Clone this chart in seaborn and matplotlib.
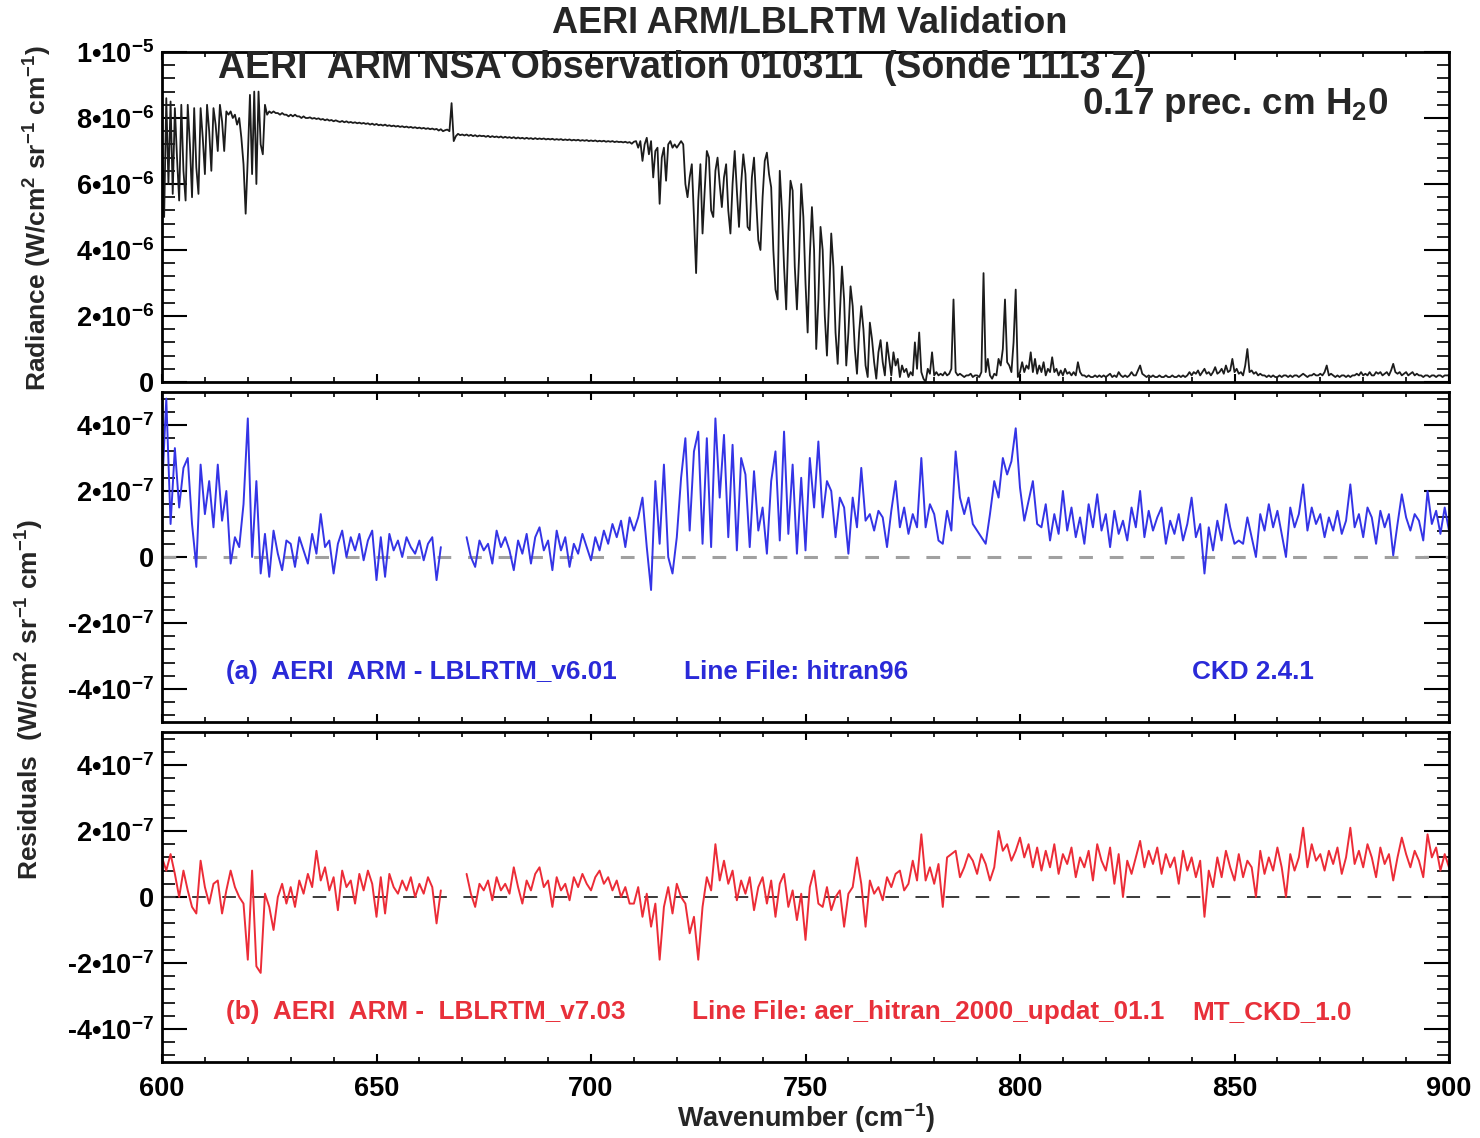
import numpy as np
import pandas as pd
import matplotlib
matplotlib.use("Agg")
import matplotlib.pyplot as plt
from matplotlib.ticker import MultipleLocator
import seaborn as sns

sns.set_theme(style="white")
plt.rcParams["font.family"] = ["Liberation Sans", "DejaVu Sans"]
plt.rcParams["font.weight"] = "bold"
plt.rcParams["mathtext.fontset"] = "custom"
plt.rcParams["mathtext.rm"] = "Liberation Sans:bold"
plt.rcParams["mathtext.it"] = "Liberation Sans:bold"
plt.rcParams["mathtext.bf"] = "Liberation Sans:bold"
plt.rcParams["mathtext.sf"] = "Liberation Sans:bold"

# Observed AERI radiance, 600-900 cm-1 every 0.5 cm-1 (units of 1e-6 W/cm2 sr cm-1)
radiance = [
    7.6, 5.0, 8.6, 6.0, 8.5, 5.7, 8.3, 6.8, 5.5, 8.4, 6.4, 5.5, 8.4, 7.2, 5.6, 8.3, 6.5, 5.7, 8.3, 7.4,
    6.3, 8.4, 7.6, 6.4, 8.3, 7.8, 7.0, 8.4, 7.9, 7.0, 8.2, 8.1, 8.2, 8.0, 8.1, 7.8, 8.0, 7.4, 6.6, 5.1,
    6.8, 8.7, 6.3, 8.8, 6.0, 8.8, 7.2, 6.9, 8.4, 8.1, 8.2, 8.15, 8.2, 8.15, 8.15, 8.1, 8.15, 8.1, 8.1, 8.05,
    8.1, 8.05, 8.1, 8.05, 8.05, 8.0, 8.05, 8.0, 8.0, 8.02, 7.98, 8.0, 7.97, 7.99, 7.95, 7.97, 7.93, 7.96, 7.92, 7.94,
    7.9, 7.93, 7.9, 7.88, 7.91, 7.87, 7.9, 7.86, 7.88, 7.85, 7.87, 7.84, 7.86, 7.83, 7.85, 7.82, 7.84, 7.8, 7.83, 7.79,
    7.82, 7.78, 7.8, 7.77, 7.8, 7.76, 7.78, 7.75, 7.77, 7.74, 7.76, 7.73, 7.75, 7.72, 7.74, 7.71, 7.73, 7.7, 7.72, 7.69,
    7.71, 7.68, 7.7, 7.67, 7.69, 7.66, 7.68, 7.65, 7.67, 7.62, 7.66, 7.6, 7.63, 7.65, 7.6, 8.45, 7.3, 7.45, 7.52, 7.48,
    7.5, 7.47, 7.5, 7.46, 7.49, 7.45, 7.48, 7.44, 7.47, 7.45, 7.46, 7.43, 7.46, 7.42, 7.45, 7.42, 7.44, 7.41, 7.44, 7.4,
    7.43, 7.4, 7.42, 7.39, 7.42, 7.38, 7.41, 7.38, 7.4, 7.37, 7.4, 7.37, 7.39, 7.36, 7.39, 7.36, 7.38, 7.36, 7.38, 7.35,
    7.37, 7.35, 7.37, 7.34, 7.36, 7.34, 7.36, 7.33, 7.35, 7.33, 7.35, 7.32, 7.34, 7.32, 7.34, 7.31, 7.33, 7.31, 7.33, 7.3,
    7.32, 7.3, 7.32, 7.29, 7.31, 7.29, 7.31, 7.28, 7.3, 7.28, 7.3, 7.27, 7.29, 7.27, 7.28, 7.26, 7.28, 7.25, 7.27, 7.22,
    7.28, 7.3, 7.1, 7.3, 6.7, 7.2, 7.4, 6.9, 7.3, 6.2, 7.0, 7.1, 5.4, 6.8, 7.1, 6.1, 7.2, 7.3, 7.1, 7.2,
    7.1, 7.2, 7.3, 7.2, 6.0, 5.6, 6.2, 6.6, 5.0, 3.3, 5.5, 6.6, 4.5, 5.8, 7.0, 6.8, 5.2, 5.0, 6.4, 6.8,
    6.0, 5.3, 6.2, 6.6, 5.2, 4.5, 6.0, 7.0, 5.8, 4.7, 6.0, 6.9, 6.3, 4.7, 4.6, 6.2, 6.8, 5.5, 4.3, 4.0,
    5.6, 6.7, 6.95, 6.3, 5.9, 4.0, 2.8, 2.5, 6.4, 5.2, 3.5, 2.2, 4.5, 6.1, 5.8, 3.5, 2.2, 3.8, 6.0, 5.0,
    3.0, 1.5, 3.8, 5.3, 4.0, 1.0, 2.5, 4.7, 4.0, 2.0, 0.8, 2.5, 4.5, 3.5, 1.5, 0.55, 2.0, 3.5, 2.5, 0.5,
    1.5, 2.9, 2.3, 1.0, 0.25, 1.5, 2.3, 1.6, 0.5, 0.15, 1.8, 1.3, 0.6, 0.1, 0.9, 1.27, 0.6, 0.2, 1.2, 0.7,
    0.2, 0.9, 0.5, 0.7, 0.15, 0.5, 0.3, 0.4, 0.15, 0.3, 0.2, 1.2, 0.4, 1.5, 0.3, 0.1, 0.0, 0.4, 0.25, 0.9,
    0.2, 0.3, 0.2, 0.25, 0.2, 0.3, 0.2, 0.25, 0.4, 2.5, 0.3, 0.2, 0.25, 0.2, 0.15, 0.2, 0.2, 0.25, 0.15, 0.2,
    0.2, 0.15, 0.3, 3.3, 0.3, 0.7, 0.2, 0.1, 0.25, 0.2, 0.7, 0.5, 1.0, 2.5, 0.6, 0.5, 0.3, 1.2, 2.8, 0.15,
    0.3, 0.6, 0.3, 0.5, 0.4, 0.9, 0.3, 0.7, 0.25, 0.5, 0.3, 0.6, 0.2, 0.4, 0.3, 0.75, 0.3, 0.4, 0.2, 0.35,
    0.2, 0.4, 0.25, 0.3, 0.2, 0.3, 0.2, 0.6, 0.3, 0.2, 0.2, 0.15, 0.2, 0.15, 0.15, 0.2, 0.15, 0.2, 0.15, 0.2,
    0.15, 0.2, 0.25, 0.15, 0.2, 0.15, 0.3, 0.2, 0.15, 0.2, 0.15, 0.2, 0.3, 0.2, 0.2, 0.35, 0.5, 0.25, 0.2, 0.15,
    0.2, 0.15, 0.2, 0.15, 0.15, 0.2, 0.15, 0.15, 0.2, 0.15, 0.15, 0.2, 0.15, 0.15, 0.2, 0.15, 0.2, 0.15, 0.2, 0.3,
    0.2, 0.3, 0.25, 0.35, 0.2, 0.3, 0.4, 0.25, 0.3, 0.2, 0.3, 0.45, 0.25, 0.3, 0.4, 0.25, 0.5, 0.3, 0.35, 0.7,
    0.3, 0.4, 0.25, 0.3, 0.2, 0.5, 1.0, 0.3, 0.35, 0.25, 0.3, 0.2, 0.25, 0.2, 0.2, 0.15, 0.2, 0.15, 0.2, 0.15,
    0.15, 0.2, 0.15, 0.2, 0.2, 0.15, 0.2, 0.15, 0.2, 0.2, 0.15, 0.2, 0.25, 0.2, 0.15, 0.2, 0.2, 0.25, 0.2, 0.2,
    0.25, 0.2, 0.3, 0.5, 0.2, 0.25, 0.2, 0.15, 0.2, 0.15, 0.2, 0.2, 0.15, 0.2, 0.15, 0.2, 0.2, 0.25, 0.2, 0.3,
    0.2, 0.25, 0.2, 0.3, 0.2, 0.2, 0.3, 0.25, 0.3, 0.2, 0.25, 0.3, 0.2, 0.35, 0.55, 0.3, 0.25, 0.3, 0.2, 0.25,
    0.3, 0.2, 0.25, 0.3, 0.2, 0.25, 0.2, 0.2, 0.15, 0.2, 0.2, 0.15, 0.2, 0.2, 0.15, 0.2, 0.2, 0.15, 0.2, 0.2, 0.2,
]

nan = np.nan

# AERI minus LBLRTM v6.01 (hitran96, CKD 2.4.1), every 1 cm-1 (units of 1e-7)
resid_v601 = [
    2.0, 4.8, 1.0, 3.3, 1.5, 2.7, 3.0, 1.0, -0.3, 2.8,
    1.3, 2.3, 0.9, 2.8, 1.1, 2.0, -0.2, 0.6, 0.3, 1.6,
    4.2, 0.0, 2.3, -0.5, 0.7, -0.6, 0.8, 0.1, -0.4, 0.5,
    0.4, -0.3, 0.6, 0.2, -0.2, 0.7, 0.1, 1.3, 0.3, 0.5,
    -0.5, 0.4, 0.8, 0.0, 0.6, 0.2, 0.7, -0.1, 0.5, 0.8,
    -0.7, 0.6, -0.6, 0.7, 0.2, 0.5, 0.0, 0.6, 0.3, 0.1,
    0.5, -0.1, 0.4, 0.6, -0.7, 0.3, nan, nan, nan, nan,
    nan, 0.6, 0.0, -0.3, 0.5, 0.2, 0.4, -0.2, 0.8, 0.3,
    0.6, 0.2, -0.4, 0.5, 0.1, 0.7, -0.2, 0.6, 0.9, 0.2,
    0.5, -0.4, 0.8, 0.2, 0.6, -0.3, 0.4, 0.1, 0.7, 0.3,
    -0.1, 0.6, 0.2, 0.8, 0.4, 1.0, 0.6, 1.1, 0.3, 1.2,
    0.8, 1.2, 1.8, 0.3, -1.0, 2.3, 0.4, 2.8, 0.0, -0.5,
    0.6, 2.4, 3.6, 0.8, 3.2, 3.8, 0.4, 3.6, 0.3, 4.2,
    1.8, 3.7, 0.6, 3.4, 0.2, 3.0, 2.5, 0.3, 2.6, 0.8,
    1.5, 0.1, 2.3, 3.2, 0.5, 3.8, 0.7, 2.8, 0.1, 2.4,
    0.2, 3.0, 1.5, 3.5, 1.2, 2.3, 2.0, 0.6, 1.8, 1.5,
    0.1, 1.8, 0.9, 2.7, 1.1, 1.3, 0.8, 1.4, 1.2, 0.3,
    1.4, 2.3, 0.9, 1.5, 0.7, 1.3, 0.9, 3.0, 0.9, 1.6,
    1.3, 0.5, 0.4, 1.4, 0.8, 3.2, 1.8, 1.3, 1.8, 1.0,
    0.8, 0.6, 0.4, 1.3, 2.3, 1.8, 3.0, 2.5, 2.9, 3.9,
    2.1, 1.1, 1.7, 2.3, 1.0, 0.9, 1.6, 0.5, 1.3, 0.7,
    2.0, 0.8, 1.5, 0.6, 1.2, 0.4, 1.6, 0.9, 1.9, 0.8,
    1.3, 0.3, 1.4, 0.7, 1.1, 0.5, 1.5, 0.9, 2.0, 0.6,
    1.4, 0.8, 1.2, 1.5, 0.4, 1.1, 0.7, 1.3, 0.5, 1.0,
    1.8, 0.6, 1.0, -0.5, 0.9, 0.2, 1.1, 0.5, 1.6, 0.9,
    0.4, 0.5, 0.4, 1.2, 0.6, 0.0, 1.3, 0.8, 1.6, 0.9,
    1.4, 0.7, 0.0, 1.5, 0.9, 1.3, 2.2, 0.8, 1.5, 1.0,
    1.3, 0.6, 1.2, 0.8, 1.4, 0.7, 1.1, 2.2, 0.9, 1.3,
    0.6, 1.5, 1.2, 0.4, 1.4, 0.9, 1.3, 0.05, 1.0, 1.9,
    1.2, 0.8, 1.3, 1.1, 0.5, 2.0, 1.0, 1.4, 0.7, 1.5, 0.8,
]

# AERI minus LBLRTM v7.03 (aer_hitran_2000_updat_01.1, MT_CKD_1.0), every 1 cm-1 (units of 1e-7)
resid_v703 = [
    1.2, 0.8, 1.3, 0.7, 0.0, 0.8, 0.2, -0.3, -0.5, 1.1,
    0.3, -0.2, 0.4, 0.5, -0.5, 0.2, 0.8, 0.3, 0.0, -0.2,
    -1.9, 0.8, -2.1, -2.3, 0.1, -0.3, -1.0, 0.0, 0.4, -0.2,
    0.3, -0.3, 0.5, 0.1, 0.7, 0.3, 1.4, 0.5, 0.9, 0.2,
    0.6, -0.4, 0.8, 0.3, 0.5, -0.2, 0.7, 0.2, 0.8, 0.4,
    -0.6, 0.6, -0.5, 0.7, 0.3, 0.1, 0.5, 0.2, 0.6, 0.0,
    0.4, 0.1, 0.6, 0.3, -0.8, 0.2, nan, nan, nan, nan,
    nan, 0.7, 0.1, -0.3, 0.4, 0.2, 0.5, -0.1, 0.6, 0.2,
    0.4, 0.1, 0.9, 0.3, -0.2, 0.5, 0.2, 0.7, 0.9, 0.3,
    0.5, -0.3, 0.6, 0.2, 0.4, -0.1, 0.6, 0.3, 0.7, 0.4,
    0.2, 0.6, 0.8, 0.4, 0.6, 0.2, 0.5, 0.0, 0.3, -0.2,
    -0.2, 0.3, -0.6, 0.1, -0.9, -0.2, -1.9, -0.3, 0.3, -0.5,
    0.4, 0.0, -0.2, -1.1, -0.6, -1.9, -0.3, 0.6, 0.2, 1.6,
    0.5, 1.1, 0.4, 0.8, -0.1, 0.5, 0.1, 0.6, -0.4, 0.3,
    0.6, -0.2, 0.5, -0.6, 0.4, 0.7, -0.3, 0.2, -0.7, 0.1,
    -1.3, 0.3, 0.8, -0.2, -0.3, 0.3, -0.4, 0.0, 0.2, -0.9,
    0.1, 0.3, 1.2, 0.4, -0.9, 0.5, 0.1, 0.3, -0.1, 0.6,
    0.3, 0.7, 0.8, 0.2, 0.4, 1.1, 0.5, 1.9, 0.5, 0.9,
    0.4, 1.0, -0.3, 1.2, 1.3, 1.4, 0.6, 0.9, 1.3, 1.1,
    0.7, 1.3, 1.0, 0.5, 0.9, 2.0, 1.4, 1.6, 1.1, 1.4,
    1.8, 1.2, 1.6, 0.9, 1.5, 0.8, 1.4, 0.9, 1.6, 0.7,
    1.3, 1.0, 1.5, 0.6, 1.2, 0.9, 1.4, 0.5, 1.6, 1.1,
    0.8, 1.5, 0.4, 1.3, 0.0, 1.1, 0.7, 1.2, 1.7, 0.9,
    1.4, 1.0, 1.5, 0.7, 1.3, 0.9, 1.2, 0.4, 1.4, 0.8,
    1.2, 0.6, 1.1, -0.6, 0.8, 0.3, 1.2, 0.6, 1.4, 0.9,
    0.5, 1.3, 0.6, 1.1, 0.9, 0.0, 1.4, 0.7, 1.2, 0.8,
    1.5, 0.9, 0.0, 1.3, 0.8, 1.2, 2.1, 0.9, 1.6, 1.1,
    1.3, 0.8, 1.4, 1.0, 1.5, 0.7, 1.2, 2.1, 1.0, 1.4,
    0.9, 1.6, 1.2, 0.6, 1.5, 1.0, 1.3, 0.5, 1.2, 1.8,
    1.3, 0.9, 1.4, 1.1, 0.6, 1.9, 1.2, 1.5, 0.8, 1.3, 0.9,
]

rad_ticks = [0.0, 2e-6, 4e-6, 6e-6, 8e-6, 1e-5]
rad_ticklabels = ["0", "2•10$^{-6}$", "4•10$^{-6}$", "6•10$^{-6}$", "8•10$^{-6}$", "1•10$^{-5}$"]
res_ticks = [-4e-7, -2e-7, 0.0, 2e-7, 4e-7]
res_ticklabels = ["-4•10$^{-7}$", "-2•10$^{-7}$", "0", "2•10$^{-7}$", "4•10$^{-7}$"]
wn_ticks = [600, 650, 700, 750, 800, 850, 900]

BLUE = "#3434e6"
RED = "#ec2c37"
BLUE_TXT = "#2a2ad8"
RED_TXT = "#e8303a"

# --- data frames ---------------------------------------------------------
df_rad = pd.DataFrame({
    "wavenumber": 600.0 + 0.5 * np.arange(len(radiance)),
    "radiance": np.asarray(radiance) * 1e-6,
})


def residual_frame(values):
    v = np.asarray(values, dtype=float) * 1e-7
    seg = np.cumsum(np.isnan(v))
    df = pd.DataFrame({"wavenumber": 600.0 + np.arange(len(v)),
                       "residual": v, "segment": seg})
    return df.dropna()


df_a = residual_frame(resid_v601)
df_b = residual_frame(resid_v703)

# --- figure layout (pixel geometry on a 1480 x 1138 canvas) --------------
W, H = 1480, 1138
fig = plt.figure(figsize=(W / 100, H / 100), dpi=100)


def axes_px(x0, y0, x1, y1):
    return fig.add_axes([x0 / W, 1 - y1 / H, (x1 - x0) / W, (y1 - y0) / H])


ax1 = axes_px(162, 52, 1449, 382)
ax2 = axes_px(162, 392, 1449, 722)
ax3 = axes_px(162, 732, 1449, 1062)

sns.lineplot(data=df_rad, x="wavenumber", y="radiance", ax=ax1, color="#1c1c1c",
             lw=1.3, estimator=None, sort=False, legend=False)

ax2.axhline(0, color="#a0a0a0", lw=2.2, ls=(0, (4.5, 5.5)), zorder=1)
sns.lineplot(data=df_a, x="wavenumber", y="residual", units="segment", ax=ax2,
             color=BLUE, lw=1.4, estimator=None, sort=False, legend=False, zorder=2)

ax3.axhline(0, color="#3a3a3a", lw=1.4, ls=(0, (7, 8.5)), zorder=1)
sns.lineplot(data=df_b, x="wavenumber", y="residual", units="segment", ax=ax3,
             color=RED, lw=1.4, estimator=None, sort=False, legend=False, zorder=2)

# --- axes styling --------------------------------------------------------
for ax in (ax1, ax2, ax3):
    ax.set_xlim(600, 900)
    ax.set_xlabel("")
    ax.set_ylabel("")
    ax.set_xticks(wn_ticks)
    ax.xaxis.set_minor_locator(MultipleLocator(10))
    ax.tick_params(axis="x", which="major", direction="in", length=6, width=1.5,
                   top=True, bottom=True, colors="black", labelsize=19.5, pad=10)
    ax.tick_params(axis="x", which="minor", direction="in", length=3.5, width=1.2,
                   top=True, bottom=True, colors="black")
    ax.tick_params(axis="y", which="major", direction="in", length=18, width=1.5,
                   left=True, right=True, colors="black", labelsize=19.5, pad=6)
    ax.tick_params(axis="y", which="minor", direction="in", length=9, width=1.2,
                   left=True, right=True, colors="black")
    for s in ax.spines.values():
        s.set_color("black")
        s.set_linewidth(2.0)
    ax.set_facecolor("white")

ax1.set_ylim(0, 1e-5)
ax1.set_yticks(rad_ticks, rad_ticklabels)
ax1.yaxis.set_minor_locator(MultipleLocator(0.4e-6))
for ax in (ax2, ax3):
    ax.set_ylim(-5e-7, 5e-7)
    ax.set_yticks(res_ticks, res_ticklabels)
    ax.yaxis.set_minor_locator(MultipleLocator(0.4e-7))
ax1.tick_params(axis="x", labelbottom=False)
ax2.tick_params(axis="x", labelbottom=False)
ax3.set_xticks(wn_ticks, [str(t) for t in wn_ticks])


def fx(px):
    return px / W


def fy(py):
    return 1 - py / H


# --- titles and annotations ----------------------------------------------
fig.text(fx(810), fy(23), "AERI ARM/LBLRTM Validation", ha="center", va="center",
         fontsize=26, weight="bold")
fig.text(fx(218), fy(68), "AERI  ARM NSA Observation 010311  (Sonde 1113 Z)",
         ha="left", va="center", fontsize=27, weight="bold")
fig.text(fx(1388), fy(105), "0.17 prec. cm H$_2$0", ha="right", va="center",
         fontsize=26.5, weight="bold")

ann_size = 18.8
fig.text(fx(226), fy(672), "(a)  AERI  ARM - LBLRTM_v6.01", ha="left", va="center",
         fontsize=ann_size, color=BLUE_TXT, weight="bold")
fig.text(fx(684), fy(672), "Line File: hitran96", ha="left", va="center",
         fontsize=ann_size, color=BLUE_TXT, weight="bold")
fig.text(fx(1192), fy(672), "CKD 2.4.1", ha="left", va="center",
         fontsize=ann_size, color=BLUE_TXT, weight="bold")

fig.text(fx(226), fy(1012), "(b)  AERI  ARM -  LBLRTM_v7.03", ha="left", va="center",
         fontsize=ann_size, color=RED_TXT, weight="bold")
fig.text(fx(692), fy(1012), "Line File: aer_hitran_2000_updat_01.1", ha="left", va="center",
         fontsize=ann_size, color=RED_TXT, weight="bold")
fig.text(fx(1192), fy(1012), "MT_CKD_1.0", ha="left", va="center",
         fontsize=ann_size, color=RED_TXT, weight="bold")

fig.text(fx(38), fy(218), "Radiance (W/cm$^2$ sr$^{-1}$ cm$^{-1}$)", rotation=90,
         ha="center", va="center", fontsize=19, weight="bold")
fig.text(fx(30), fy(700), "Residuals  (W/cm$^2$ sr$^{-1}$ cm$^{-1}$)", rotation=90,
         ha="center", va="center", fontsize=19, weight="bold")
fig.text(fx(806), fy(1118), "Wavenumber (cm$^{-1}$)", ha="center", va="center",
         fontsize=19.5, weight="bold")

fig.savefig("out.png", dpi=100, facecolor="white")
